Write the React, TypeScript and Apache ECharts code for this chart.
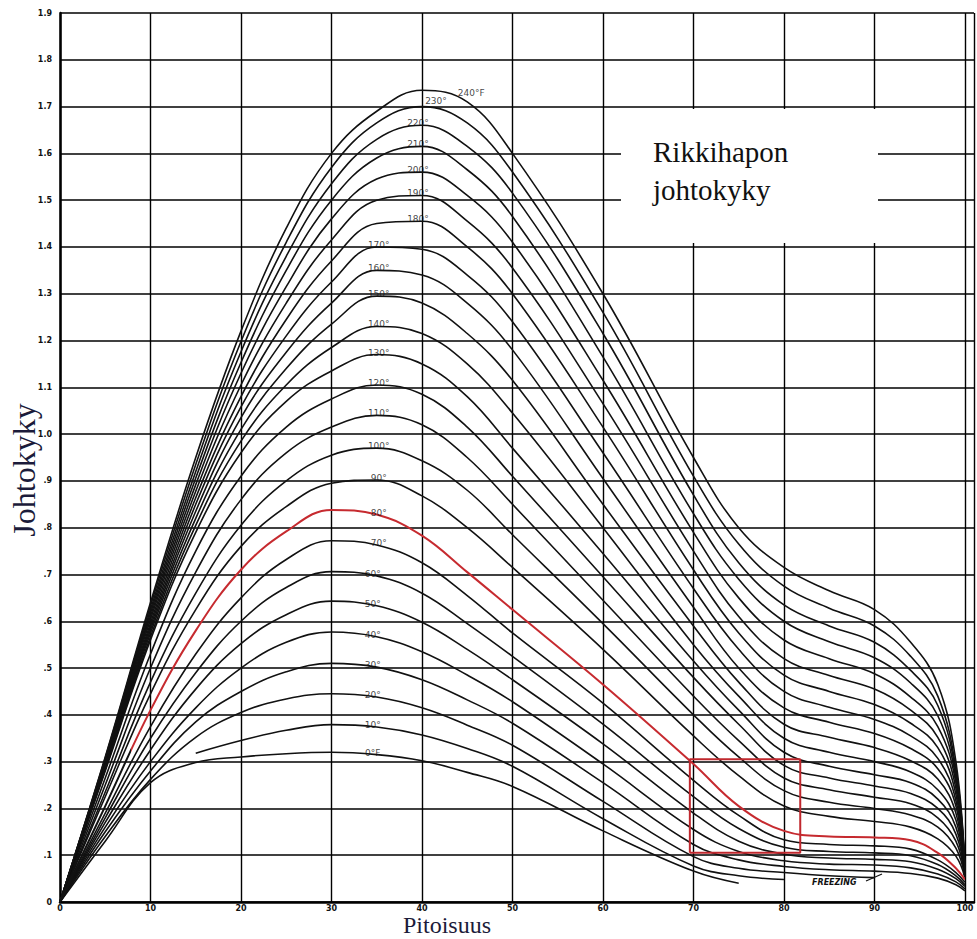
import React, { useEffect, useRef } from 'react';
import * as echarts from 'echarts';

// Sulfuric acid concentration (%) at which each curve is read
const concentration = [0, 5, 10, 15, 20, 25, 30, 35, 40, 45, 50, 60, 70, 75, 80, 85, 90, 94, 97, 99, 100];

const temperatures = [0, 10, 20, 30, 40, 50, 60, 70, 80, 90, 100, 110, 120, 130, 140, 150, 160, 170, 180, 190, 200, 210, 220, 230, 240];
const temperatureLabels = ['0°F', '10°', '20°', '30°', '40°', '50°', '60°', '70°', '80°', '90°', '100°', '110°', '120°', '130°', '140°', '150°', '160°', '170°', '180°', '190°', '200°', '210°', '220°', '230°', '240°F'];

// Conductivity (null = curve not drawn there)
const cond000 = [0, 0.13, 0.255, 0.298, 0.31, 0.317, 0.32, 0.315, 0.302, 0.277, 0.247, 0.152, 0.066, 0.04, null, null, null, null, null, null, null];
const cond010 = [null, null, null, 0.318, 0.345, 0.367, 0.379, 0.374, 0.357, 0.328, 0.29, 0.178, 0.077, 0.056, 0.048, null, null, null, null, null, null];
const cond020 = [0, 0.14, 0.262, 0.352, 0.405, 0.434, 0.445, 0.438, 0.415, 0.378, 0.335, 0.215, 0.097, 0.072, 0.063, 0.056, 0.052, null, null, null, null];
const cond030 = [0, 0.15, 0.28, 0.385, 0.45, 0.492, 0.51, 0.502, 0.475, 0.432, 0.382, 0.255, 0.123, 0.09, 0.076, 0.069, 0.066, 0.061, 0.051, 0.037, 0.024];
const cond040 = [0, 0.16, 0.30, 0.415, 0.50, 0.555, 0.577, 0.567, 0.535, 0.485, 0.428, 0.295, 0.155, 0.108, 0.088, 0.081, 0.079, 0.073, 0.06, 0.043, 0.028];
const cond050 = [0, 0.17, 0.325, 0.455, 0.552, 0.614, 0.643, 0.633, 0.598, 0.54, 0.475, 0.338, 0.19, 0.13, 0.102, 0.094, 0.091, 0.086, 0.07, 0.05, 0.033];
const cond060 = [0, 0.18, 0.35, 0.49, 0.60, 0.672, 0.706, 0.697, 0.66, 0.595, 0.525, 0.38, 0.225, 0.157, 0.117, 0.108, 0.105, 0.099, 0.08, 0.056, 0.037];
const cond070 = [0, 0.19, 0.375, 0.53, 0.65, 0.732, 0.772, 0.763, 0.725, 0.655, 0.575, 0.425, 0.26, 0.185, 0.133, 0.123, 0.12, 0.113, 0.09, 0.063, 0.042];
const cond080 = [0, 0.205, 0.41, 0.58, 0.71, 0.792, 0.838, 0.828, 0.783, 0.705, 0.625, 0.465, 0.295, 0.205, 0.152, 0.14, 0.138, 0.132, 0.105, 0.072, 0.048];
const cond090 = [0, 0.225, 0.445, 0.625, 0.76, 0.845, 0.895, 0.902, 0.868, 0.80, 0.715, 0.54, 0.355, 0.27, 0.205, 0.183, 0.172, 0.16, 0.135, 0.098, 0.052];
const cond100 = [0, 0.235, 0.47, 0.66, 0.805, 0.90, 0.955, 0.97, 0.943, 0.88, 0.785, 0.595, 0.40, 0.31, 0.238, 0.213, 0.20, 0.186, 0.16, 0.115, 0.054];
const cond110 = [0, 0.25, 0.50, 0.705, 0.86, 0.96, 1.015, 1.04, 1.02, 0.95, 0.85, 0.645, 0.44, 0.345, 0.265, 0.24, 0.224, 0.21, 0.18, 0.13, 0.056];
const cond120 = [0, 0.265, 0.53, 0.75, 0.91, 1.015, 1.075, 1.105, 1.085, 1.015, 0.91, 0.695, 0.48, 0.38, 0.292, 0.265, 0.248, 0.232, 0.20, 0.145, 0.058];
const cond130 = [0, 0.28, 0.56, 0.79, 0.96, 1.07, 1.135, 1.17, 1.15, 1.08, 0.97, 0.745, 0.515, 0.41, 0.32, 0.29, 0.272, 0.255, 0.22, 0.16, 0.06];
const cond140 = [0, 0.283, 0.567, 0.805, 0.985, 1.105, 1.185, 1.23, 1.215, 1.15, 1.045, 0.80, 0.55, 0.44, 0.35, 0.32, 0.30, 0.278, 0.24, 0.175, 0.062];
const cond150 = [0, 0.285, 0.575, 0.82, 1.01, 1.14, 1.235, 1.295, 1.28, 1.215, 1.115, 0.85, 0.59, 0.47, 0.38, 0.352, 0.33, 0.302, 0.263, 0.19, 0.064];
const cond160 = [0, 0.288, 0.582, 0.835, 1.035, 1.175, 1.28, 1.35, 1.34, 1.28, 1.18, 0.905, 0.63, 0.50, 0.415, 0.384, 0.36, 0.328, 0.285, 0.205, 0.065];
const cond170 = [0, 0.29, 0.589, 0.85, 1.058, 1.21, 1.325, 1.40, 1.395, 1.34, 1.24, 0.96, 0.67, 0.54, 0.45, 0.416, 0.39, 0.355, 0.307, 0.217, 0.066];
const cond180 = [0, 0.293, 0.596, 0.864, 1.08, 1.245, 1.37, 1.45, 1.455, 1.40, 1.30, 1.015, 0.71, 0.575, 0.485, 0.45, 0.422, 0.382, 0.33, 0.23, 0.067];
const cond190 = [0, 0.296, 0.604, 0.878, 1.105, 1.28, 1.415, 1.50, 1.51, 1.455, 1.355, 1.065, 0.75, 0.61, 0.52, 0.484, 0.455, 0.41, 0.352, 0.243, 0.068];
const cond200 = [0, 0.30, 0.611, 0.892, 1.13, 1.315, 1.46, 1.545, 1.56, 1.51, 1.41, 1.115, 0.79, 0.65, 0.56, 0.52, 0.488, 0.438, 0.375, 0.255, 0.07];
const cond210 = [0, 0.302, 0.618, 0.906, 1.153, 1.35, 1.50, 1.59, 1.615, 1.565, 1.465, 1.165, 0.83, 0.69, 0.60, 0.556, 0.522, 0.468, 0.398, 0.265, 0.07];
const cond220 = [0, 0.305, 0.625, 0.92, 1.176, 1.38, 1.535, 1.63, 1.66, 1.615, 1.515, 1.215, 0.87, 0.725, 0.635, 0.59, 0.555, 0.495, 0.42, 0.275, 0.07];
const cond230 = [0, 0.308, 0.633, 0.935, 1.198, 1.41, 1.57, 1.665, 1.70, 1.665, 1.56, 1.26, 0.91, 0.765, 0.675, 0.628, 0.59, 0.525, 0.44, 0.285, 0.07];
const cond240 = [0, 0.31, 0.64, 0.95, 1.22, 1.44, 1.60, 1.69, 1.735, 1.71, 1.60, 1.30, 0.95, 0.80, 0.715, 0.665, 0.625, 0.555, 0.465, 0.30, 0.07];

const curves = [cond000, cond010, cond020, cond030, cond040, cond050, cond060, cond070, cond080, cond090, cond100, cond110, cond120, cond130, cond140, cond150, cond160, cond170, cond180, cond190, cond200, cond210, cond220, cond230, cond240];

// index into `concentration` where each temperature label sits on its curve
const labelPointIndex = [7, 7, 7, 7, 7, 7, 7, 7, 7, 7, 7, 7, 7, 7, 7, 7, 7, 7, 8, 8, 8, 8, 8, 8, 9];

// highlighted curve (80°F) and the highlight box corners (concentration, conductivity)
const highlightedTemperature = 80;
const highlightStartConcentration = 7.8;
const boxConcentration = [69.6, 81.8];
const boxConductivity = [0.105, 0.305];

const xTickMax = 100;

function App() {
  const ref = useRef<HTMLDivElement>(null);
  useEffect(() => {
    if (!ref.current) return;
    const chart = echarts.init(ref.current, undefined, { renderer: 'svg' });

    const hiIndex = temperatures.indexOf(highlightedTemperature);
    const lineSeries: any[] = curves.map((c, i) => ({
      type: 'line',
      name: temperatureLabels[i],
      data: concentration
        .map((x, j) => [x, c[j]])
        .filter((p) => p[1] !== null),
      smooth: 0.4,
      showSymbol: false,
      silent: true,
      z: i === hiIndex ? 4 : 2,
      lineStyle: i === hiIndex ? { width: 2 } : { color: '#111', width: 1.6 },
    }));

    const [bx0, bx1] = boxConcentration;
    const [by0, by1] = boxConductivity;
    const boxSeries = {
      type: 'line',
      silent: true,
      showSymbol: false,
      z: 5,
      data: [[bx0, by0], [bx1, by0], [bx1, by1], [bx0, by1], [bx0, by0]],
      lineStyle: { color: '#c0282e', width: 2 },
    };

    const labelOffsets = (i: number) => {
      if (i === 24) return [4, -9];
      if (i === 23) return [14, -6];
      if (i >= 18) return [-4, -2];
      if (i <= 6) return [-4, -2];
      return [2, -2];
    };

    const labelSeries = {
      type: 'scatter',
      silent: true,
      symbolSize: 1,
      z: 6,
      itemStyle: { color: 'rgba(0,0,0,0)' },
      data: temperatures.map((t, i) => ({
        value: [concentration[labelPointIndex[i]], curves[i][labelPointIndex[i]]],
        label: {
          show: true,
          position: 'inside',
          offset: labelOffsets(i),
          formatter: temperatureLabels[i],
          fontSize: 9,
          fontFamily: 'DejaVu Sans',
          color: '#111',
        },
      })),
    };

    chart.setOption({
      animation: false,
      backgroundColor: '#fff',
      grid: { left: 60, top: 13, width: 917, height: 889 },
      xAxis: {
        type: 'value',
        min: 0,
        max: 101,
        interval: 10,
        axisLine: { show: true, onZero: false, lineStyle: { color: '#000', width: 2.5 } },
        axisTick: { show: false },
        splitLine: { show: true, lineStyle: { color: '#000', width: 1.4 } },
        axisLabel: {
          fontSize: 8,
          fontWeight: 'bold',
          color: '#111',
          margin: 2,
          fontFamily: 'DejaVu Sans',
          formatter: (v: number) => (v > xTickMax ? '' : String(Math.round(v))),
        },
      },
      yAxis: {
        type: 'value',
        min: 0,
        max: 1.9,
        interval: 0.1,
        axisLine: { show: true, lineStyle: { color: '#000', width: 2.5 } },
        axisTick: { show: false },
        splitLine: { show: true, lineStyle: { color: '#000', width: 1.6 } },
        axisLabel: {
          fontSize: 8,
          fontWeight: 'bold',
          color: '#111',
          margin: 8,
          fontFamily: 'DejaVu Sans',
          formatter: (v: number) =>
            v === 0 ? '0' : v < 0.95 ? '.' + Math.round(v * 10) : v.toFixed(1),
        },
      },
      visualMap: [
        {
          type: 'piecewise',
          show: false,
          dimension: 0,
          seriesIndex: hiIndex,
          pieces: [
            { gte: 0, lt: highlightStartConcentration, color: '#111' },
            { gte: highlightStartConcentration, lte: 100, color: '#c62a2f' },
          ],
        },
      ],
      series: [...lineSeries, boxSeries, labelSeries],
      graphic: [
        { type: 'rect', z: 100, shape: { x: 621, y: 109, width: 257, height: 134 }, style: { fill: '#fff' } },
        {
          type: 'text', z: 101, x: 653, y: 152,
          style: { text: 'Rikkihapon', fontSize: 29, fontFamily: 'Liberation Serif', fill: '#111', verticalAlign: 'middle' },
        },
        {
          type: 'text', z: 101, x: 653, y: 190,
          style: { text: 'johtokyky', fontSize: 29, fontFamily: 'Liberation Serif', fill: '#111', verticalAlign: 'middle' },
        },
        {
          type: 'text', z: 101, x: 24, y: 470, rotation: Math.PI / 2,
          style: { text: 'Johtokyky', fontSize: 32, fontFamily: 'Liberation Serif', fill: '#1b1b3a', align: 'center', verticalAlign: 'middle' },
        },
        {
          type: 'text', z: 101, x: 447, y: 937,
          style: { text: 'Pitoisuus', fontSize: 24, fontFamily: 'Liberation Serif', fill: '#1b1b3a', align: 'center', verticalAlign: 'bottom' },
        },
        {
          type: 'text', z: 101, x: 812, y: 882,
          style: { text: 'FREEZING', fontSize: 8, fontWeight: 'bold', fontStyle: 'italic', fontFamily: 'DejaVu Sans', fill: '#111', verticalAlign: 'middle' },
        },
        {
          type: 'line', z: 101,
          shape: { x1: 866, y1: 881, x2: 882, y2: 874 },
          style: { stroke: '#111', lineWidth: 1.2 },
        },
      ],
    });
    return () => chart.dispose();
  }, []);

  return (
    <div
      ref={ref}
      style={{ position: 'fixed', left: 0, top: 0, width: 977, height: 939, background: '#fff' }}
    />
  );
}

export default App;
